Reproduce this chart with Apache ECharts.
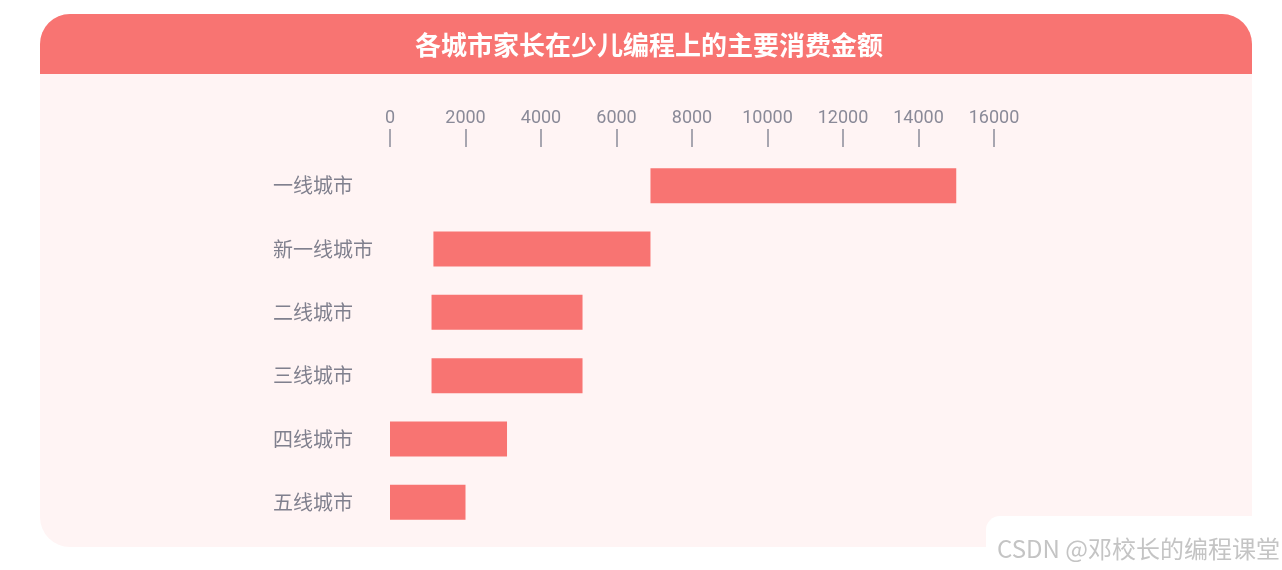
<!DOCTYPE html>
<html>
<head>
<meta charset="utf-8">
<style>
  html, body { margin: 0; padding: 0; background: #fff; }
  #main { width: 1282px; height: 570px; }
</style>
<script src="https://cdn.jsdelivr.net/npm/echarts@6/dist/echarts.min.js"></script>
</head>
<body>
<div id="main"></div>
<script>
// 城市分级
var cities = ['一线城市', '新一线城市', '二线城市', '三线城市', '四线城市', '五线城市'];
// 消费金额区间（元）
var spendLow = [6900, 1150, 1100, 1100, 0, 0];
var spendHigh = [15000, 6900, 5100, 5100, 3100, 2000];
var axisTicks = [0, 16000, 2000]; // min, max, interval

var barColor = '#f87472';
var textGray = '#80808e';

// 透明底座 + 区间长度
var spanLen = [];
for (var i = 0; i < cities.length; i++) {
    spanLen.push(spendHigh[i] - spendLow[i]);
}

var myChart = echarts.init(document.getElementById('main'));
var option = {
    animation: false,
    title: {
        text: '各城市家长在少儿编程上的主要消费金额',
        left: 415,
        top: 32,
        padding: 0,
        textStyle: {
            color: '#fff',
            fontSize: 26,
            fontWeight: 'bold',
            fontFamily: 'Noto Sans CJK SC'
        }
    },
    graphic: [
        {
            type: 'rect', z: -10,
            shape: { x: 40, y: 14, width: 1212, height: 533, r: 30 },
            style: { fill: '#fff4f4' }
        },
        {
            type: 'rect', z: -9,
            shape: { x: 40, y: 14, width: 1212, height: 60, r: [30, 30, 0, 0] },
            style: { fill: barColor }
        },
        // 水印
        {
            type: 'rect', z: 100,
            shape: { x: 986, y: 516, width: 296, height: 54, r: [14, 0, 0, 0] },
            style: { fill: '#fff' }
        },
        {
            type: 'text', z: 101,
            x: 1280, y: 549,
            style: {
                text: 'CSDN @邓校长的编程课堂',
                fill: '#c4c4c4',
                fontSize: 24,
                fontFamily: 'Noto Sans CJK SC',
                align: 'right',
                verticalAlign: 'middle'
            }
        }
    ],
    grid: {
        left: 390,
        right: 288,
        top: 154,
        bottom: 36
    },
    xAxis: {
        type: 'value',
        position: 'top',
        offset: 7,
        min: axisTicks[0],
        max: axisTicks[1],
        interval: axisTicks[2],
        splitLine: { show: false },
        axisLine: { show: false },
        axisTick: {
            show: true,
            length: 18,
            lineStyle: { color: '#8c8c99', width: 1.5 }
        },
        axisLabel: {
            margin: 20,
            color: '#8a8a98',
            fontSize: 18,
            fontFamily: 'Roboto',
            formatter: function (v) { return String(v); }
        }
    },
    yAxis: {
        type: 'category',
        inverse: true,
        data: cities,
        axisLine: { show: false },
        axisTick: { show: false },
        axisLabel: {
            align: 'left',
            margin: 117,
            color: textGray,
            fontSize: 20,
            fontFamily: 'Noto Sans CJK SC',
            padding: [4, 0, 0, 0]
        }
    },
    series: [
        {
            type: 'bar',
            stack: 'range',
            barWidth: 35,
            data: spendLow,
            itemStyle: { color: 'transparent' },
            silent: true
        },
        {
            type: 'bar',
            stack: 'range',
            barWidth: 35,
            data: spanLen,
            itemStyle: { color: barColor }
        }
    ]
};
myChart.setOption(option);
</script>
</body>
</html>
